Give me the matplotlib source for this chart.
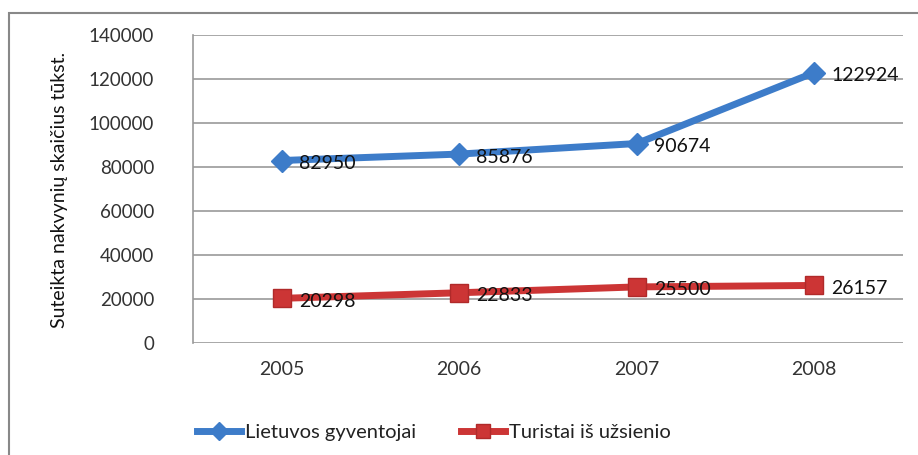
import matplotlib.pyplot as plt
import numpy as np
from matplotlib.patches import Rectangle

plt.rcParams['font.family'] = ['Lato', 'DejaVu Sans']

years = ["2005", "2006", "2007", "2008"]
lietuvos = [82950, 85876, 90674, 122924]
turistai = [20298, 22833, 25500, 26157]
yticks = [0, 20000, 40000, 60000, 80000, 100000, 120000, 140000]

blue = "#3d7cc9"
red = "#cc3535"

fig = plt.figure(figsize=(9.18, 4.55), dpi=100)
ax = fig.add_axes([193/918, 1-343/455, 710/918, 308/455])

x = np.arange(len(years))
ax.plot(x, lietuvos, color=blue, lw=5, marker="D", ms=11, mec=blue, label="Lietuvos gyventojai", zorder=3)
ax.plot(x, turistai, color=red, lw=5, marker="s", ms=13, mec="#b02a2a", label="Turistai iš užsienio", zorder=3)

# data labels, right of each point
for xi, v in zip(x, lietuvos):
    ax.annotate(str(v), (xi, v), xytext=(17, -3), textcoords="offset pixels",
                ha="left", va="center", fontsize=14, color="#111111", zorder=4)
for xi, v in zip(x, turistai):
    ax.annotate(str(v), (xi, v), xytext=(17, -3), textcoords="offset pixels",
                ha="left", va="center", fontsize=14, color="#111111", zorder=4)

ax.set_xlim(-0.5, 3.5)
ax.set_ylim(0, 140000)
ax.set_yticks(yticks)
ax.set_yticklabels([str(t) for t in yticks], fontsize=13.5, color="#333333")
ax.set_xticks(x)
ax.set_xticklabels(years, fontsize=14, color="#333333")
ax.tick_params(axis="y", length=0, pad=28)
ax.tick_params(axis="x", length=0, pad=13)
ax.grid(axis="y", color="#999999", lw=1.2)
ax.set_axisbelow(True)
for s in ["top", "right", "bottom"]:
    ax.spines[s].set_visible(False)
ax.spines["left"].set_color("#999999")
ax.spines["left"].set_linewidth(1.2)

fig.text(60/918, 1-190/455, "Suteikta nakvynių skaičius tūkst.", rotation=90,
         ha="center", va="center", fontsize=14, color="#111111")

# outer chart frame
fig.patches.append(Rectangle((9/918, -0.1), 1.0, 1-13/455+0.1, transform=fig.transFigure,
                             fill=False, ec="#888888", lw=1.5))

leg = fig.legend(loc="center", bbox_to_anchor=(434/918, 1-432/455), ncol=2, frameon=False,
                 fontsize=14.5, handlelength=2.2, columnspacing=2.2, handletextpad=0.2,
                 markerscale=0.8)
for t in leg.get_texts():
    t.set_color("#222222")

fig.savefig("out.png", dpi=100)
